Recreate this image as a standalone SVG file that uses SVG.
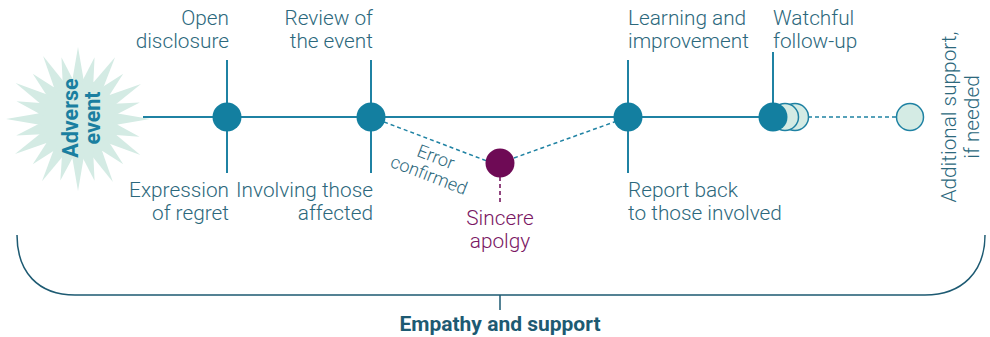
<svg xmlns="http://www.w3.org/2000/svg" xmlns:xlink="http://www.w3.org/1999/xlink" width="990" height="337" viewBox="0 0 990 337">
<style>
.lbl{font-family:Roboto,"Liberation Sans",sans-serif;font-weight:300;font-size:20.8px;fill:#2c687c}
.line{stroke:#1f82a3;stroke-width:2;fill:none}
.dash{stroke:#1f82a3;stroke-width:1.5;fill:none;stroke-dasharray:4 3}
.node{fill:#137fa0}
.light{fill:#d4ebe4;stroke:#1f82a3;stroke-width:1.5}
.burst{fill:#d4ebe4}
</style>
<defs>
<polygon id="spk" points="0,-72 6.5,-34 -6.5,-34"/>
<polygon id="spk2" points="0,-64 6.5,-34 -6.5,-34"/>
</defs>
<rect width="990" height="337" fill="#ffffff"/>
<g id="adverse-event">
<g class="burst" transform="translate(78,119)">
<circle r="40"/>
<use xlink:href="#spk" transform="rotate(0)"/>
<use xlink:href="#spk2" transform="rotate(15)"/>
<use xlink:href="#spk" transform="rotate(31)"/>
<use xlink:href="#spk2" transform="rotate(45)"/>
<use xlink:href="#spk" transform="rotate(61)"/>
<use xlink:href="#spk2" transform="rotate(75)"/>
<use xlink:href="#spk" transform="rotate(90)"/>
<use xlink:href="#spk2" transform="rotate(106)"/>
<use xlink:href="#spk" transform="rotate(120)"/>
<use xlink:href="#spk2" transform="rotate(135)"/>
<use xlink:href="#spk" transform="rotate(151)"/>
<use xlink:href="#spk2" transform="rotate(165)"/>
<use xlink:href="#spk" transform="rotate(180)"/>
<use xlink:href="#spk2" transform="rotate(196)"/>
<use xlink:href="#spk" transform="rotate(210)"/>
<use xlink:href="#spk2" transform="rotate(225)"/>
<use xlink:href="#spk" transform="rotate(241)"/>
<use xlink:href="#spk2" transform="rotate(255)"/>
<use xlink:href="#spk" transform="rotate(270)"/>
<use xlink:href="#spk2" transform="rotate(286)"/>
<use xlink:href="#spk" transform="rotate(300)"/>
<use xlink:href="#spk2" transform="rotate(315)"/>
<use xlink:href="#spk" transform="rotate(331)"/>
<use xlink:href="#spk2" transform="rotate(345)"/>
</g>
<text transform="translate(78,118) rotate(-90)" text-anchor="middle" font-family="Roboto,'Liberation Sans',sans-serif" font-weight="700" font-size="21.5" fill="#1a7fa0">Adverse</text>
<text transform="translate(100,118) rotate(-90)" text-anchor="middle" font-family="Roboto,'Liberation Sans',sans-serif" font-weight="700" font-size="21.5" fill="#1a7fa0">event</text>
</g>
<g id="connectors">
<line class="line" x1="143" y1="117" x2="773" y2="117"/>
<line class="line" x1="227" y1="60" x2="227" y2="173"/>
<line class="line" x1="371" y1="60" x2="371" y2="173"/>
<line class="line" x1="628" y1="60" x2="628" y2="173"/>
<line class="line" x1="773" y1="52" x2="773" y2="117"/>
<line class="dash" x1="371" y1="117" x2="487" y2="161"/>
<line class="dash" x1="514" y1="158" x2="628" y2="117"/>
<line class="dash" x1="500" y1="177" x2="500" y2="203" style="stroke:#6e0a55"/>
<line class="dash" x1="808" y1="117" x2="896" y2="117"/>
</g>
<g id="open-disclosure">
<circle class="node" cx="227" cy="117" r="14.5"/>
<text class="lbl" x="229" y="25" text-anchor="end">Open</text>
<text class="lbl" x="229" y="48" text-anchor="end">disclosure</text>
<text class="lbl" x="229" y="197" text-anchor="end">Expression</text>
<text class="lbl" x="229" y="220" text-anchor="end">of regret</text>
</g>
<g id="review">
<circle class="node" cx="371" cy="117" r="14.5"/>
<text class="lbl" x="373" y="25" text-anchor="end">Review of</text>
<text class="lbl" x="373" y="48" text-anchor="end">the event</text>
<text class="lbl" x="373" y="197" text-anchor="end">Involving those</text>
<text class="lbl" x="373" y="220" text-anchor="end">affected</text>
</g>
<g id="error-confirmed">
<g transform="translate(432.5,166) rotate(21)">
<text class="lbl" x="0" y="-3.5" text-anchor="middle" style="font-size:18px">Error</text>
<text class="lbl" x="0" y="15.8" text-anchor="middle" style="font-size:18px">confirmed</text>
</g>
</g>
<g id="sincere-apology">
<circle cx="500" cy="163" r="14.5" fill="#6e0a55"/>
<text class="lbl" x="500" y="225" text-anchor="middle" style="fill:#7a1663">Sincere</text>
<text class="lbl" x="500" y="248" text-anchor="middle" style="fill:#7a1663">apolgy</text>
</g>
<g id="learning">
<circle class="node" cx="628" cy="117" r="14.5"/>
<text class="lbl" x="628" y="25">Learning and</text>
<text class="lbl" x="628" y="48">improvement</text>
<text class="lbl" x="628" y="197">Report back</text>
<text class="lbl" x="628" y="220">to those involved</text>
</g>
<g id="watchful">
<circle class="light" cx="795" cy="117" r="13.5"/>
<circle class="light" cx="785" cy="117" r="13.5"/>
<circle class="node" cx="773" cy="117" r="14.5"/>
<text class="lbl" x="773" y="25">Watchful</text>
<text class="lbl" x="773" y="48">follow-up</text>
</g>
<g id="additional-support">
<circle class="light" cx="910" cy="117" r="13.5"/>
<text class="lbl" transform="translate(956,117) rotate(-90)" text-anchor="middle">Additional support,</text>
<text class="lbl" transform="translate(979,117) rotate(-90)" text-anchor="middle">if needed</text>
</g>
<g id="empathy">
<path d="M17,235 C17,272 38,295 75,295 H925 C962,295 985,272 985,235" fill="none" stroke="#1d5a72" stroke-width="1.5"/>
<line x1="500" y1="295" x2="500" y2="310" stroke="#1d5a72" stroke-width="1.5"/>
<text x="500" y="331" text-anchor="middle" font-family="Roboto,'Liberation Sans',sans-serif" font-weight="700" font-size="21" fill="#1d5a72">Empathy and support</text>
</g>
</svg>
